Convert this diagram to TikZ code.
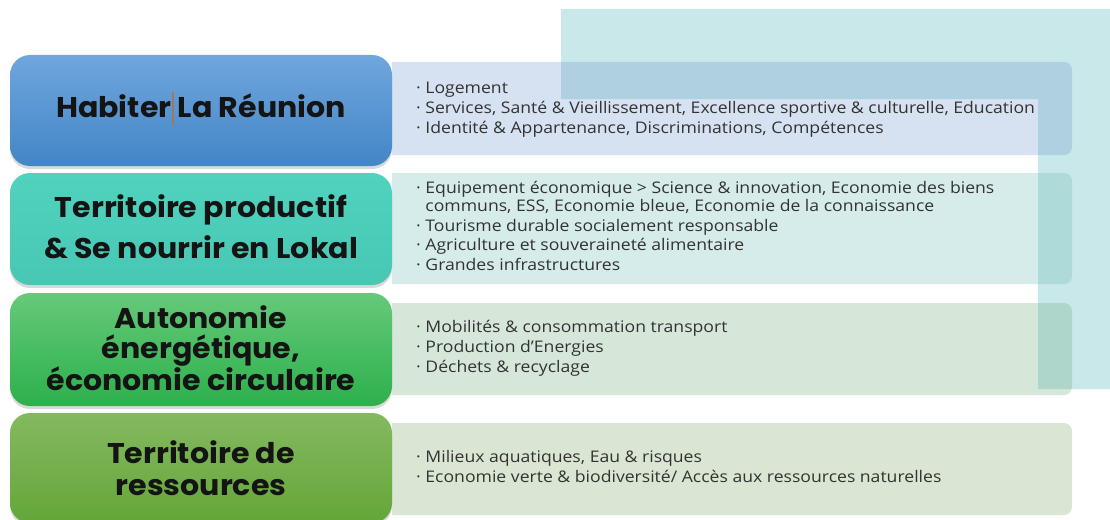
\documentclass[tikz,border=0pt]{standalone}
\usepackage{fontspec}
\setmainfont{Open Sans}
\newfontfamily\headfont{Poppins}[FakeStretch=1.055]
\newfontfamily\bodyfont{Open Sans}[FakeStretch=1.1]
\usetikzlibrary{shadows}
\definecolor{tealbg}{RGB}{201,232,234}
\definecolor{rc1}{RGB}{108,148,205}
\definecolor{rc2}{RGB}{105,187,180}
\definecolor{rc3}{RGB}{109,169,123}
\definecolor{rc4}{RGB}{119,166,98}
\definecolor{b1t}{RGB}{112,166,222}
\definecolor{b1b}{RGB}{66,134,198}
\definecolor{b2t}{RGB}{80,210,190}
\definecolor{b2b}{RGB}{72,200,180}
\definecolor{b3t}{RGB}{102,201,122}
\definecolor{b3b}{RGB}{44,176,76}
\definecolor{b4t}{RGB}{132,185,96}
\definecolor{b4b}{RGB}{100,166,56}
\definecolor{cursorc}{RGB}{160,120,90}
\begin{document}
\begin{tikzpicture}[x=1pt,y=-1pt,
  leftbox/.style={rounded corners=20pt, minimum width=382pt, inner sep=0pt,
    drop shadow={shadow xshift=0pt,shadow yshift=-3pt,opacity=0.3}},
  lefttext/.style={inner sep=0pt, align=center, text=black!92},
  rbox/.style={rounded corners=8pt, opacity=0.28},
  item/.style={anchor=base west, inner sep=0pt, font=\bodyfont\fontsize{16}{18}\selectfont, text=black!80},
]
\useasboundingbox (0,0) rectangle (1110,519);
\clip (0,0) rectangle (1110,519);
% teal background frame
\fill[tealbg] (561,9) -- (1110,9) -- (1110,389) -- (1038,389) -- (1038,99) -- (561,99) -- cycle;
% right boxes
\begin{scope}
\clip (392,0) rectangle (1110,519);
\fill[rbox, rc1] (370,62) rectangle (1072,155);
\fill[rbox, rc2] (370,173) rectangle (1072,284);
\fill[rbox, rc3] (370,303) rectangle (1072,395);
\fill[rbox, rc4] (370,423) rectangle (1072,515);
\end{scope}
% left boxes
\node[leftbox, minimum height=111pt, top color=b1t, bottom color=b1b] (L1) at (201,110.5) {};
\node[leftbox, minimum height=112pt, top color=b2t, bottom color=b2b] (L2) at (201,229) {};
\node[leftbox, minimum height=113pt, top color=b3t, bottom color=b3b] (L3) at (201,349.5) {};
\node[leftbox, minimum height=110pt, top color=b4t, bottom color=b4b] (L4) at (201,468) {};
\node[lefttext, font=\headfont\bfseries\fontsize{28.5}{31}\selectfont] (T1) at (L1.center) [yshift=2pt]
  {Habiter\rlap{\hspace{1pt}\color{cursorc}\rule[-8pt]{1.2pt}{33pt}} La Réunion};
\node[lefttext, font=\headfont\bfseries\fontsize{28.5}{41}\selectfont] (T2) at (L2.center) [yshift=2.5pt]
  {Territoire productif\\\& Se nourrir en Lokal};
\node[lefttext, font=\headfont\bfseries\fontsize{28.5}{30}\selectfont] (T3) at (L3.center) [yshift=1.5pt]
  {Autonomie\\énergétique,\\économie circulaire};
\node[lefttext, font=\headfont\bfseries\fontsize{28.5}{32}\selectfont] (T4) at (L4.center)
  {Territoire de\\ressources};
% items
\node[item] (a1) at (416,93) {· Logement};
\node[item] (a2) at (416,113) {· Services, Santé \& Vieillissement, Excellence sportive \& culturelle, Education};
\node[item] (a3) at (416,133) {· Identité \& Appartenance, Discriminations, Compétences};
\node[item] (b1) at (416,193) {· Equipement économique > Science \& innovation, Economie des biens};
\node[item] (b2) at (416,211) {\phantom{· }communs, ESS, Economie bleue, Economie de la connaissance};
\node[item] (b3) at (416,231) {· Tourisme durable socialement responsable};
\node[item] (b4) at (416,250) {· Agriculture et souveraineté alimentaire};
\node[item] (b5) at (416,270) {· Grandes infrastructures};
\node[item] (c1) at (416,332) {· Mobilités \& consommation transport};
\node[item] (c2) at (416,352) {· Production d’Energies};
\node[item] (c3) at (416,372) {· Déchets \& recyclage};
\node[item] (d1) at (416,462) {· Milieux aquatiques, Eau \& risques};
\node[item] (d2) at (416,482) {· Economie verte \& biodiversité/ Accès aux ressources naturelles};
\end{tikzpicture}
\end{document}
